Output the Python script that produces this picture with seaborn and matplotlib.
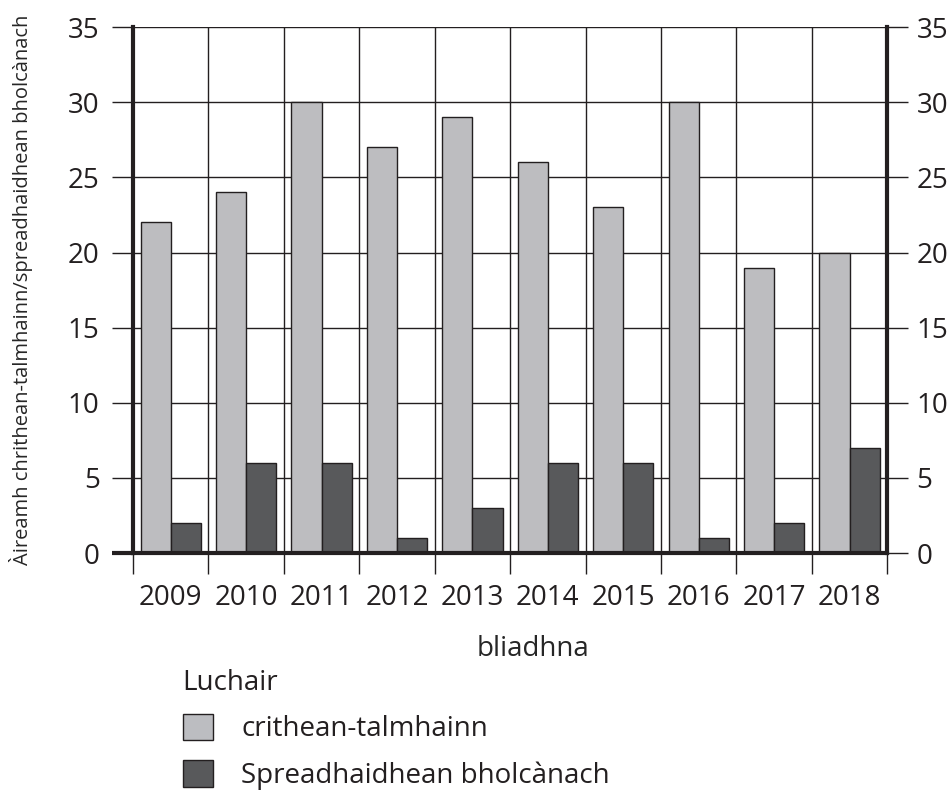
import matplotlib
matplotlib.use("Agg")
import matplotlib.pyplot as plt
import matplotlib.patches as mpatches
import seaborn as sns
import pandas as pd

years = ['2009', '2010', '2011', '2012', '2013', '2014', '2015', '2016', '2017', '2018']
earthquakes = [22, 24, 30, 27, 29, 26, 23, 30, 19, 20]
eruptions = [2, 6, 6, 1, 3, 6, 6, 1, 2, 7]
series = ['crithean-talmhainn', 'Spreadhaidhean bholcànach']
colours = ['#bcbdc1', '#58595b']

df = pd.DataFrame({
    'bliadhna': years * 2,
    'value': earthquakes + eruptions,
    'series': [series[0]] * len(years) + [series[1]] * len(years),
})

sns.set_style('white')
plt.rcParams['font.family'] = ['Open Sans', 'DejaVu Sans']
plt.rcParams['text.color'] = '#231f20'
plt.rcParams['xtick.color'] = '#231f20'
plt.rcParams['ytick.color'] = '#231f20'

fs = 20

fig = plt.figure(figsize=(9.5, 7.98), dpi=100)
ax = fig.add_axes([0.140, 0.307, 0.794, 0.659])

sns.barplot(data=df, x='bliadhna', y='value', hue='series', palette=colours,
            width=0.8, edgecolor='#231f20', linewidth=1, ax=ax, legend=False)

ax.set_xlim(-0.5, 9.5)
ax.set_ylim(0, 35)
ax.set_axisbelow(True)

# grid: horizontal every 5, vertical at the category boundaries
ax.set_yticks(range(0, 36, 5))
ax.set_xticks([i - 0.5 for i in range(len(years) + 1)], minor=True)
ax.grid(True, which='major', axis='y', color='#231f20', linewidth=1)
ax.grid(True, which='minor', axis='x', color='#231f20', linewidth=1)
ax.grid(False, which='major', axis='x')

for side in ['left', 'right', 'bottom']:
    ax.spines[side].set_visible(True)
    ax.spines[side].set_linewidth(3)
    ax.spines[side].set_color('#231f20')
ax.spines['top'].set_visible(False)

ax.tick_params(axis='y', which='major', direction='out', length=15, width=1,
               labelsize=fs, pad=9, left=True)
ax.tick_params(axis='x', which='major', length=0, labelsize=fs, pad=22)
ax.tick_params(axis='x', which='minor', direction='out', length=15, width=1,
               bottom=True)
ax.yaxis.get_major_ticks()[0].tick1line.set_markeredgewidth(3)

ax.set_xlabel('bliadhna', fontsize=fs)
ax.xaxis.set_label_coords(0.53, -0.155)
ax.set_ylabel('Àireamh chrithean-talmhainn/spreadhaidhean bholcànach', fontsize=14.5)
ax.yaxis.set_label_coords(-0.132, 0.5)

# right hand axis repeats the scale
ax2 = ax.twinx()
ax2.set_ylim(0, 35)
ax2.set_yticks(range(0, 36, 5))
ax2.tick_params(axis='y', direction='out', length=15, width=1,
                labelsize=fs, pad=6, right=True)
for side in ax2.spines:
    ax2.spines[side].set_visible(False)

handles = [mpatches.Patch(facecolor=c, edgecolor='#231f20', linewidth=1, label=s)
           for c, s in zip(colours, series)]
leg = fig.legend(handles=handles, title='Luchair', loc='upper left',
                 bbox_to_anchor=(0.166, 0.193), frameon=False, fontsize=fs,
                 title_fontsize=fs, handlelength=1.1, handleheight=1.1,
                 handletextpad=1.0, labelspacing=0.6, alignment='left')

fig.savefig('out.png', dpi=100)
